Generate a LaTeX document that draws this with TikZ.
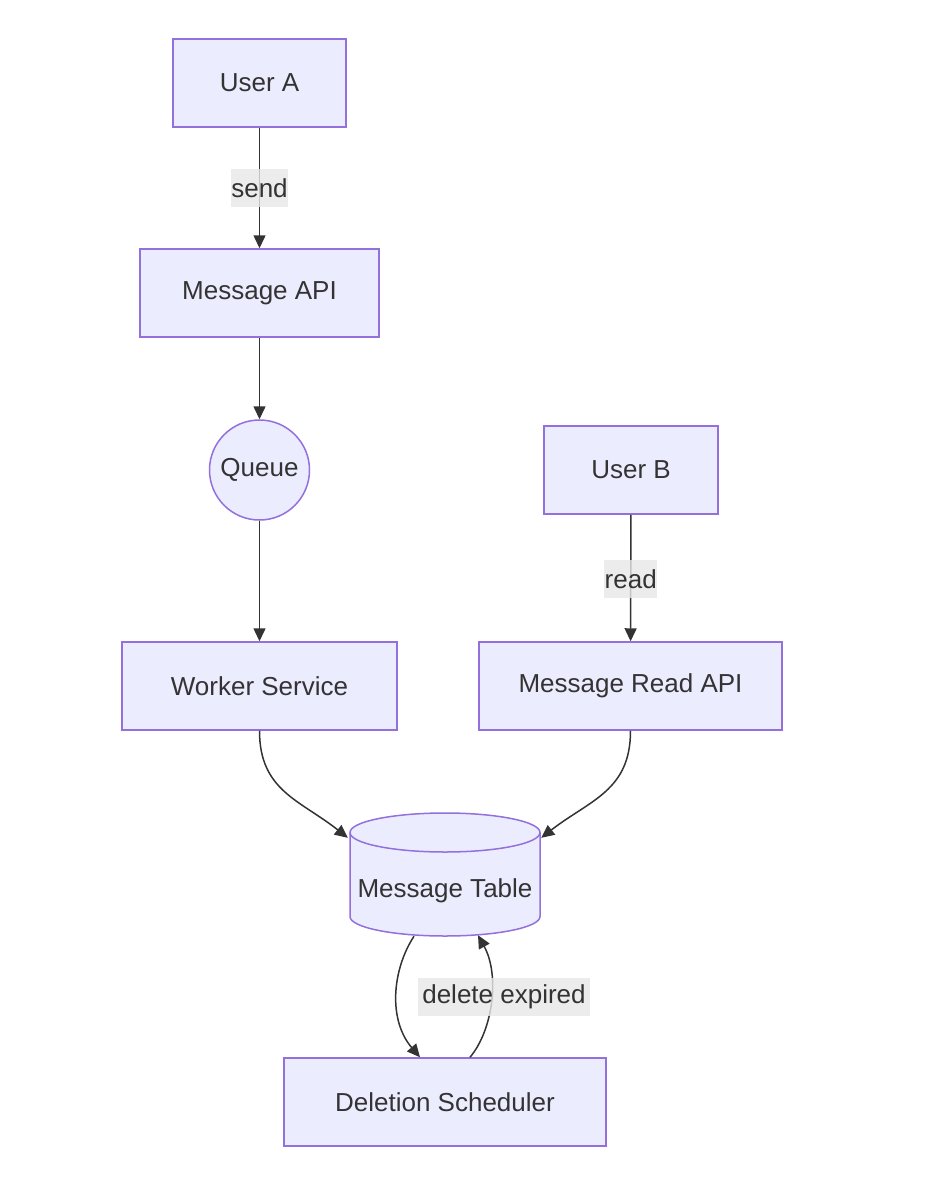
\documentclass[tikz,border=0pt]{standalone}
\usepackage{fontspec}
\setmainfont{Liberation Sans}
\usetikzlibrary{arrows.meta}
\definecolor{nodefill}{HTML}{ECECFF}
\definecolor{nodeline}{HTML}{9370DB}
\definecolor{txt}{HTML}{333333}
\definecolor{lblbg}{HTML}{E8E8E8}
\begin{document}
\begin{tikzpicture}[x=1pt,y=-1pt,
  every node/.style={font=\fontsize{26}{30}\selectfont, text=txt},
  box/.style={draw=nodeline, fill=nodefill, line width=1.5pt, minimum height=88pt, inner sep=0pt},
  circ/.style={draw=nodeline, fill=nodefill, line width=1.5pt, circle, minimum size=100pt, inner sep=0pt},
  edge/.style={draw=txt, line width=1.5pt, -{Triangle[length=13pt,width=12pt]}},
  lbl/.style={fill=lblbg, fill opacity=0.8, text opacity=1, inner sep=0pt, minimum height=38pt}
]
\useasboundingbox (0,0) rectangle (932,1200);
\fill[white] (0,0) rectangle (932,1200);

\node[box, minimum width=173pt] (ua) at (259.5,83) {User A};
\node[box, minimum width=239pt] (mapi) at (259.5,293) {Message API};
\node[circ] (q) at (259.5,470) {Queue};
\node[box, minimum width=174pt] (ub) at (631,470) {User B};
\node[box, minimum width=275pt] (ws) at (259.5,686) {Worker Service};
\node[box, minimum width=303pt] (mra) at (630.5,686) {Message Read API};
\node[box, minimum width=322pt] (ds) at (445,1102) {Deletion Scheduler};

% cylinder
\filldraw[draw=nodeline, fill=nodefill, line width=1.5pt]
  (350,832.5) -- (350,916.5) arc[start angle=180, end angle=360, x radius=95, y radius=-19.5]
  -- (540,832.5) arc[start angle=0, end angle=180, x radius=95, y radius=-19.5] -- cycle;
\draw[draw=nodeline, line width=1.5pt]
  (350,832.5) arc[start angle=180, end angle=360, x radius=95, y radius=-19.5];
\node[minimum width=190pt, minimum height=123pt, inner sep=0pt] (mt) at (445,874.5) {};
\node at (445,891) {Message Table};

\draw[edge] (ua) -- (mapi) node[lbl, midway, minimum width=53pt] {send};
\draw[edge] (mapi) -- (q);
\draw[edge] (q) -- (ws);
\draw[edge] (ub) -- (mra) node[lbl, pos=0.51, minimum width=53pt] {read};

\draw[edge] (ws.south) .. controls ++(0,60) and (300,800) .. ([shift={(-2,25)}]mt.north west);
\draw[edge] (mra.south) .. controls ++(0,60) and (590,800) .. ([shift={(1,25)}]mt.north east);

\draw[edge] ([xshift=-31pt]mt.south) .. controls (392,970) and (388,1020) .. ([xshift=-25pt]ds.north);
\draw[edge] ([xshift=25pt]ds.north) .. controls (493,1030) and (500,975) .. ([xshift=33pt,yshift=1pt]mt.south);
\node[lbl, minimum width=172pt] (de) at (504,997) {delete expired};
\end{tikzpicture}
\end{document}
